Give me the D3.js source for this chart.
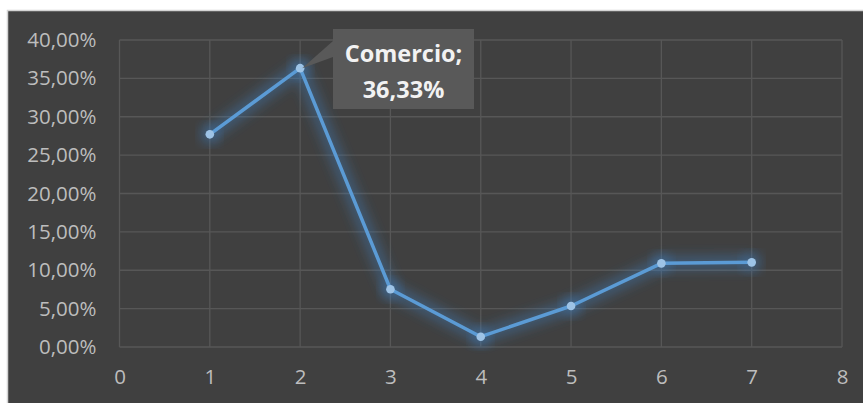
<!DOCTYPE html>
<html><head><meta charset="utf-8">
<script src="https://cdn.jsdelivr.net/npm/d3@7"></script>
<style>body{margin:0;background:#fff}svg{display:block}</style>
</head><body>
<svg id="c" width="863" height="403"></svg>
<script>
const xValues = [1, 2, 3, 4, 5, 6, 7];
const yValues = [0.2771, 0.3633, 0.0752, 0.0134, 0.0534, 0.1090, 0.1103];
const xTicks = [0, 1, 2, 3, 4, 5, 6, 7, 8];
const yTicks = [0, 0.05, 0.10, 0.15, 0.20, 0.25, 0.30, 0.35, 0.40];
const labelLines = ["Comercio;", "36,33%"];
const labelIndex = 1;

const svg = d3.select("#c");
const W = 863, H = 403;
svg.append("rect").attr("x", 7.5).attr("y", 10.5).attr("width", W).attr("height", H)
  .attr("fill", "#404040").attr("stroke", "#d4d4d4").attr("stroke-width", 1.5);

const x = d3.scaleLinear().domain([0, 8]).range([119.5, 842]);
const y = d3.scaleLinear().domain([0, 0.40]).range([347, 40]);
const fmt = v => d3.format(".2f")(v * 100).replace(".", ",") + "%";
const font = "'Open Sans', sans-serif";

const defs = svg.append("defs");
const f = defs.append("filter").attr("id", "glow").attr("x", "-20%").attr("y", "-20%").attr("width", "140%").attr("height", "140%");
f.append("feGaussianBlur").attr("in", "SourceGraphic").attr("stdDeviation", 6).attr("result", "b");
const fm = f.append("feMerge");
fm.append("feMergeNode").attr("in", "b");

// gridlines
const g = svg.append("g");
g.selectAll(".hg").data(yTicks).join("line")
  .attr("x1", x(0)).attr("x2", x(8)).attr("y1", d => y(d)).attr("y2", d => y(d))
  .attr("stroke", "#575757").attr("stroke-width", 1.3);
g.selectAll(".vg").data(xTicks).join("line")
  .attr("y1", y(0)).attr("y2", y(0.40)).attr("x1", d => x(d)).attr("x2", d => x(d))
  .attr("stroke", "#575757").attr("stroke-width", 1.3);

// axes via d3 axis
const yAxis = svg.append("g").attr("transform", `translate(${x(0)},0)`)
  .call(d3.axisLeft(y).tickValues(yTicks).tickFormat(fmt).tickSize(0).tickPadding(23));
yAxis.select(".domain").remove();
yAxis.selectAll("text").attr("font-family", font).attr("font-size", 20.5).attr("fill", "#bdbdbd");

const xAxis = svg.append("g").attr("transform", `translate(0,${y(0)})`)
  .call(d3.axisBottom(x).tickValues(xTicks).tickFormat(d3.format("d")).tickSize(0).tickPadding(22));
xAxis.select(".domain").remove();
xAxis.selectAll("text").attr("font-family", font).attr("font-size", 20.5).attr("fill", "#bdbdbd");

const pts = xValues.map((d, i) => [x(d), y(yValues[i])]);
const line = d3.line();

// glow
svg.append("path").attr("d", line(pts)).attr("fill", "none")
  .attr("stroke", "#3f7fc0").attr("stroke-width", 14).attr("stroke-opacity", 0.4)
  .attr("stroke-linejoin", "round").attr("filter", "url(#glow)");
svg.selectAll(".gm").data(pts).join("circle")
  .attr("cx", d => d[0]).attr("cy", d => d[1]).attr("r", 10)
  .attr("fill", "#3f7fc0").attr("opacity", 0.4).attr("filter", "url(#glow)");

svg.append("path").attr("d", line(pts)).attr("fill", "none")
  .attr("stroke", "#5b9bd5").attr("stroke-width", 3.5).attr("stroke-linejoin", "round");
svg.selectAll(".m").data(pts).join("circle")
  .attr("cx", d => d[0]).attr("cy", d => d[1]).attr("r", 4.3)
  .attr("fill", "#9dc3e6");

// callout
const px = pts[labelIndex][0], py = pts[labelIndex][1];
const bx = 333, by = 29, bw = 141, bh = 80;
svg.append("path")
  .attr("d", `M${bx},${by + 12} L${px + 2},${py} L${bx},${by + 28} Z`)
  .attr("fill", "#595959");
svg.append("rect").attr("x", bx).attr("y", by).attr("width", bw).attr("height", bh).attr("fill", "#595959");
svg.selectAll(".lt").data(labelLines).join("text")
  .attr("x", bx + bw / 2).attr("y", (d, i) => by + 33 + i * 36)
  .attr("text-anchor", "middle").attr("font-family", font).attr("font-weight", "bold")
  .attr("font-size", 23.5).attr("fill", "#f2f2f2").text(d => d);
</script>
</body></html>
